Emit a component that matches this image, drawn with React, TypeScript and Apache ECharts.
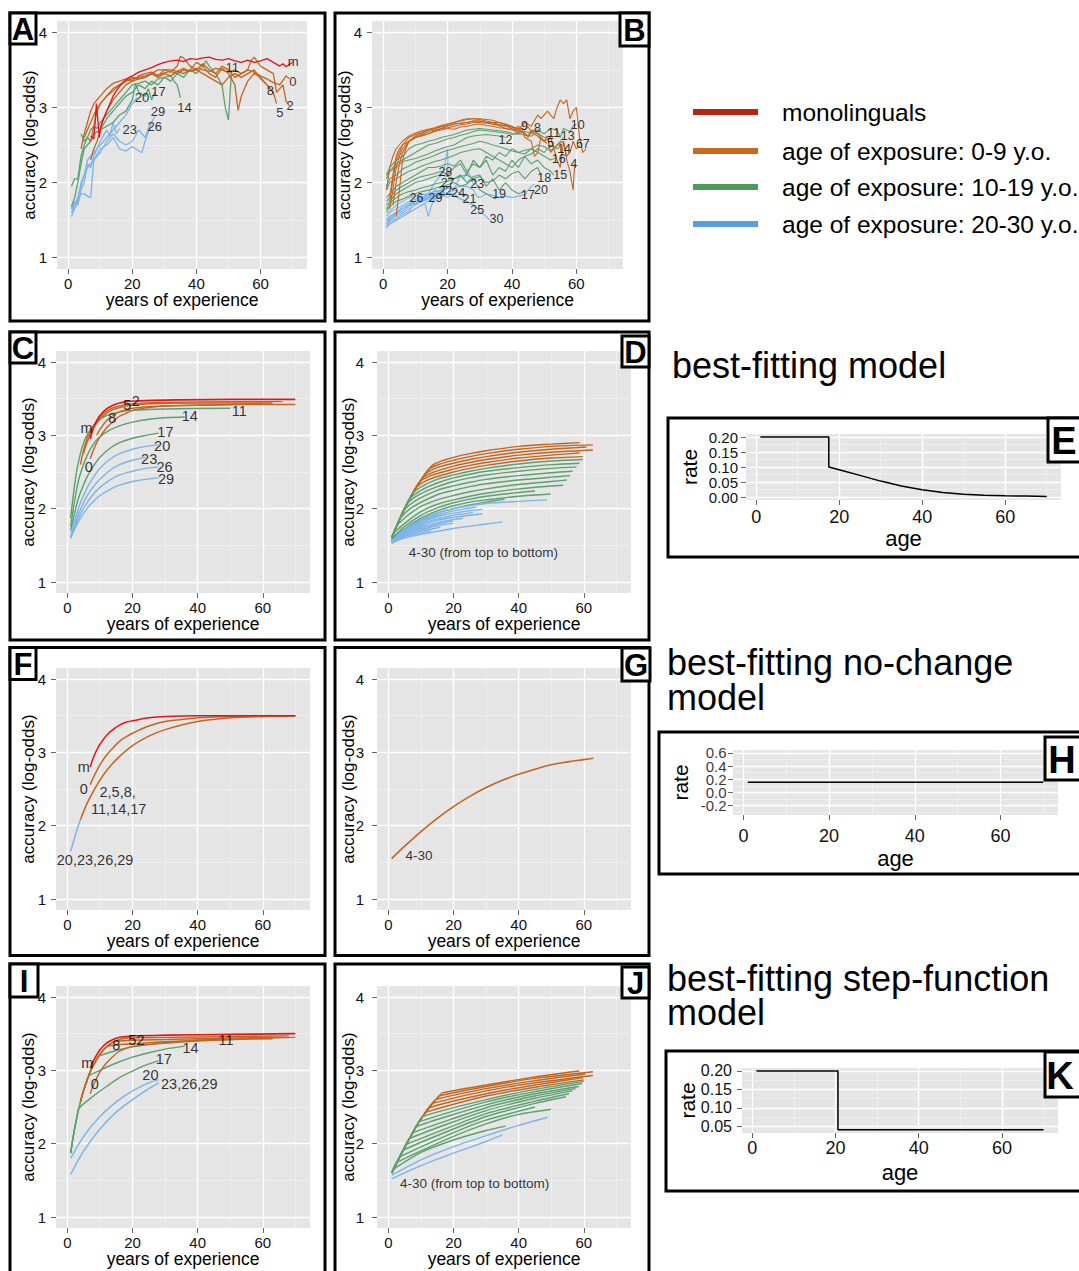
import React, { useEffect, useRef } from "react";
import * as echarts from "echarts";

const FONT = '"Liberation Sans", Arial, Helvetica, sans-serif';
const RED = "#E5141B";
const ORANGE = "#C4651F";
const GREEN = "#5BA06D";
const BLUE = "#7BB4EA";

// ---------- legend ----------
const legendLabels = ["monolinguals", "age of exposure: 0-9 y.o.", "age of exposure: 10-19 y.o.", "age of exposure: 20-30 y.o."];
const legendColors = ["#B5250F", "#C8691F", "#4F9A58", "#5B9DE3"];

// ---------- ticks ----------
const expTicks = [0, 20, 40, 60];
const accTicks = [1, 2, 3, 4];
const ageTicks = [0, 20, 40, 60];
const rateTicksE = [0, 0.05, 0.1, 0.15, 0.2];
const rateTicksH = [-0.2, 0, 0.2, 0.4, 0.6];
const rateTicksK = [0.05, 0.1, 0.15, 0.2];

// ---------- panel A (observed, early learners) ----------
const A_m = [[7,2.62],[8,2.58],[8.8,3.05],[9.7,2.6],[10.2,2.75],[11,2.85],[12,2.95],[13,3.05],[14,3.15],[15,3.22],[16,3.28],[17,3.33],[18,3.37],[19,3.4],[20,3.42],[22,3.47],[24,3.5],[26,3.53],[28,3.57],[30,3.6],[32,3.62],[34,3.63],[36,3.61],[38,3.65],[40,3.64],[42,3.66],[44,3.67],[46,3.64],[48,3.63],[50,3.65],[52,3.62],[54,3.6],[56,3.63],[58,3.6],[60,3.62],[62,3.65],[64,3.6],[66,3.55],[67,3.58],[68,3.54],[70,3.6]];
const A_0 = [[7,2.55],[8,2.75],[9,2.95],[10,3.05],[12,3.15],[14,3.25],[16,3.3],[18,3.35],[20,3.38],[22,3.4],[24,3.42],[26,3.45],[28,3.43],[30,3.46],[32,3.48],[34,3.45],[36,3.5],[38,3.48],[40,3.52],[42,3.5],[44,3.48],[46,3.52],[48,3.5],[50,3.47],[52,3.5],[54,3.45],[56,3.5],[58,3.47],[60,3.42],[62,3.38],[64,3.33],[66,3.3],[68,3.42],[69,3.38]];
const A_2 = [[4,2.45],[5,2.65],[6,2.8],[7,2.95],[8,3.05],[9,3.1],[10,3.15],[12,3.25],[14,3.32],[16,3.35],[18,3.38],[20,3.35],[22,3.42],[24,3.45],[26,3.47],[28,3.42],[30,3.5],[32,3.47],[34,3.55],[35,3.68],[36,3.66],[38,3.55],[40,3.5],[42,3.58],[44,3.5],[46,3.45],[48,3.55],[50,3.5],[52,3.4],[54,3.45],[56,3.5],[57,3.62],[58,3.67],[60,3.55],[62,3.5],[64,3.45],[65,3.2],[66,3.25],[67,3.3],[68,3.08],[69,3.02]];
const A_5 = [[5,2.6],[6,2.7],[7,2.8],[8,2.9],[9,2.98],[10,3.05],[12,3.15],[14,3.22],[16,3.3],[18,3.35],[20,3.4],[22,3.38],[24,3.4],[26,3.45],[28,3.4],[30,3.45],[32,3.42],[34,3.48],[36,3.45],[38,3.5],[40,3.6],[42,3.55],[44,3.45],[46,3.4],[48,3.52],[50,3.45],[52,3.3],[53,2.96],[54,3.15],[56,3.35],[58,3.45],[60,3.4],[62,3.3],[64,3.2],[65,3.05]];
const A_8 = [[7,2.3],[8,2.45],[9,2.55],[10,2.7],[11,2.85],[12,2.95],[14,3.1],[16,3.2],[18,3.3],[20,3.35],[22,3.38],[24,3.4],[26,3.45],[28,3.5],[30,3.5],[32,3.5],[34,3.48],[36,3.52],[38,3.48],[40,3.5],[42,3.45],[44,3.4],[46,3.35],[48,3.3],[50,3.4],[52,3.45],[54,3.4],[56,3.45],[58,3.5],[60,3.38],[62,3.3],[63,3.25]];
const A_11 = [[4,2.65],[5,2.55],[6,2.6],[7,2.7],[8,2.75],[9,2.72],[10,2.8],[12,2.9],[14,3.0],[16,3.1],[18,3.2],[20,3.3],[22,3.32],[24,3.35],[26,3.3],[28,3.38],[30,3.4],[32,3.35],[34,3.45],[36,3.4],[38,3.5],[40,3.45],[42,3.55],[43,3.62],[44,3.55],[46,3.45],[48,3.3],[49,3.0],[50,2.83],[50.5,3.2],[51,3.5]];
const A_14 = [[1,1.95],[2,2.05],[3,2.05],[4,2.35],[5,2.5],[6,2.6],[7,2.55],[8,2.65],[10,2.7],[12,2.85],[14,2.95],[16,3.05],[18,3.15],[20,3.2],[22,3.3],[24,3.25],[26,3.35],[28,3.3],[30,3.4],[32,3.42],[33,3.35],[34,3.3],[35,3.13]];
const A_17 = [[1,1.68],[2,1.8],[3,2.0],[4,2.25],[5,2.45],[6,2.5],[7,2.55],[8,2.65],[10,2.7],[12,2.75],[14,2.8],[16,2.9],[18,2.95],[20,3.1],[21,3.32],[22,3.2],[24,3.15],[25,3.25],[26,3.1],[27,3.2]];
const A_20 = [[1,1.6],[2,1.7],[3,1.78],[4,2.0],[5,2.1],[6,2.3],[7,2.35],[8,2.4],[10,2.5],[12,2.6],[14,2.7],[16,2.8],[18,2.9],[20,3.05],[21.5,3.13]];
const A_23 = [[1,1.65],[2,1.75],[3,1.7],[4,1.9],[5,2.0],[6,2.25],[7,2.2],[8,2.35],[9,2.45],[10,2.55],[12,2.7],[13,2.62],[14,2.8],[15,2.65],[16,2.72]];
const A_26 = [[1,1.55],[2,1.65],[3,1.75],[4,1.85],[5,1.85],[6,1.82],[7,1.8],[8,2.3],[10,2.4],[12,2.55],[14,2.65],[16,2.55],[18,2.5],[20,2.55],[22,2.7],[24,2.6],[25.5,2.78]];
const A_29 = [[1,1.65],[2,1.7],[3,1.8],[4,1.95],[5,2.1],[6,2.2],[8,2.3],[10,2.45],[12,2.5],[14,2.6],[16,2.45],[18,2.42],[20,2.48],[22,2.42],[23,2.4],[24,2.55],[26,2.8],[27,2.88]];
const A_labels = [["m",70.2,3.61],["0",70.1,3.35],["8",63.1,3.23],["5",66,2.93],["2",69.2,3.02],["11",51.2,3.53],["14",36.3,3.0],["17",28.2,3.21],["20",23,3.13],["29",28,2.95],["26",27,2.74],["23",19.2,2.71]];

// ---------- panel B (observed, late learners) ----------
const B_orange = [
  [[2,1.65],[3,1.9],[4,2.2],[5,2.35],[6,2.45],[8,2.55],[10,2.6],[12,2.62],[14,2.65],[16,2.68],[18,2.7],[20,2.72],[22,2.71],[24,2.74],[26,2.75],[28,2.77],[30,2.78],[32,2.76],[34,2.75],[36,2.73],[38,2.72],[40,2.71],[42,2.7],[44,2.65],[45,2.62],[46,2.7],[48,2.65],[50,2.55],[51,2.62],[52,2.4],[53,2.45],[54,2.3],[55,2.2],[56,2.55],[57,2.3],[58,2.15],[59,1.9],[59.5,2.25]],
  [[2,1.75],[3,2.05],[4,2.3],[5,2.4],[6,2.5],[8,2.55],[10,2.6],[12,2.63],[14,2.65],[16,2.69],[18,2.72],[20,2.73],[22,2.75],[24,2.77],[26,2.78],[28,2.8],[30,2.8],[32,2.79],[34,2.78],[36,2.76],[38,2.72],[40,2.7],[42,2.68],[44,2.66],[45,2.6],[46,2.67],[48,2.62],[49,2.58],[50,2.55],[51,2.52]],
  [[4,1.55],[5,1.9],[6,2.3],[7,2.45],[8,2.55],[10,2.6],[12,2.64],[14,2.68],[16,2.7],[18,2.72],[20,2.75],[22,2.78],[24,2.79],[26,2.8],[28,2.82],[30,2.82],[32,2.8],[34,2.8],[36,2.77],[38,2.75],[40,2.72],[42,2.65],[43,2.72],[44,2.6],[46,2.55],[47,2.35],[48,2.4],[49,2.6],[50,2.55],[52,2.6],[53,2.45],[54,2.5],[56,2.55],[57,2.35],[58,2.4],[59,2.55],[60,2.45],[61,2.5]],
  [[3,1.7],[4,2.0],[5,2.25],[6,2.4],[8,2.55],[10,2.62],[12,2.66],[14,2.7],[16,2.72],[18,2.75],[20,2.78],[22,2.8],[24,2.83],[26,2.85],[28,2.85],[30,2.84],[32,2.82],[34,2.8],[36,2.8],[38,2.78],[40,2.75],[42,2.7],[44,2.8],[46,2.75],[48,2.9],[49,2.85],[50,2.9],[51,2.95],[52,2.9],[53,2.85],[54,3.0],[55,3.1],[56,3.05],[57,3.1],[58,2.85],[59,2.95],[60,3.0],[60.5,2.8],[61,2.6],[62,2.4],[63,2.45]],
  [[2,1.8],[3,2.1],[4,2.35],[5,2.45],[6,2.5],[8,2.6],[10,2.64],[12,2.67],[14,2.7],[16,2.72],[18,2.74],[20,2.76],[22,2.78],[24,2.79],[26,2.8],[28,2.82],[30,2.82],[32,2.8],[34,2.78],[36,2.77],[38,2.76],[40,2.74],[42,2.72],[44,2.7],[45,2.74],[46,2.68],[47,2.7]],
  [[1,1.9],[2,2.2],[3,2.35],[4,2.45],[6,2.55],[8,2.62],[10,2.66],[12,2.69],[14,2.71],[16,2.73],[18,2.76],[20,2.78],[22,2.8],[24,2.82],[26,2.84],[28,2.85],[30,2.85],[32,2.84],[34,2.83],[36,2.8],[38,2.77],[40,2.74],[41,2.72],[42,2.75],[43,2.7]],
];
const B_green = [
  [[1,2.1],[2,2.2],[4,2.3],[6,2.35],[8,2.45],[10,2.5],[12,2.52],[14,2.55],[16,2.57],[18,2.6],[20,2.62],[22,2.64],[24,2.67],[26,2.7],[28,2.71],[30,2.72],[32,2.71],[34,2.7],[36,2.69],[38,2.68],[40,2.66],[42,2.65],[44,2.68],[46,2.66],[48,2.7],[50,2.65],[52,2.72],[54,2.7],[55,2.6],[56,2.72],[58,2.68],[59,2.75],[60,2.78]],
  [[1,2.05],[2,2.15],[4,2.25],[6,2.3],[8,2.35],[10,2.4],[12,2.45],[14,2.5],[16,2.52],[18,2.55],[20,2.58],[22,2.6],[24,2.63],[26,2.65],[28,2.68],[30,2.7],[32,2.69],[34,2.68],[36,2.67],[38,2.66],[40,2.64],[42,2.65],[44,2.63],[46,2.62],[48,2.66],[50,2.6],[52,2.62]],
  [[1,2.1],[2,2.15],[4,2.2],[6,2.28],[8,2.3],[10,2.32],[12,2.35],[14,2.38],[16,2.42],[18,2.45],[20,2.48],[22,2.5],[24,2.55],[26,2.6],[28,2.62],[30,2.63],[32,2.64],[34,2.63],[36,2.62],[38,2.6]],
  [[1,1.95],[2,2.05],[4,2.1],[6,2.18],[8,2.22],[10,2.27],[12,2.3],[14,2.33],[16,2.36],[18,2.4],[20,2.43],[22,2.45],[24,2.48],[26,2.5],[28,2.52],[30,2.55],[32,2.53],[34,2.5],[36,2.48],[38,2.45],[40,2.42],[42,2.4],[44,2.43],[46,2.45],[48,2.5],[50,2.48],[52,2.42],[54,2.5],[56,2.6]],
  [[1,1.9],[2,2.0],[4,2.05],[6,2.1],[8,2.15],[10,2.18],[12,2.22],[14,2.25],[16,2.28],[18,2.3],[20,2.33],[22,2.36],[24,2.4],[26,2.42],[28,2.44],[30,2.45],[32,2.4],[34,2.35],[36,2.3],[38,2.25],[40,2.2],[42,2.3],[44,2.35],[46,2.38],[48,2.45],[50,2.4],[52,2.5],[54,2.45],[55,2.48]],
  [[1,1.8],[2,1.85],[4,1.95],[6,2.0],[8,2.05],[10,2.1],[12,2.15],[14,2.2],[16,2.2],[18,2.22],[20,2.25],[22,2.22],[24,2.3],[26,2.15],[28,2.25],[30,2.2],[32,2.3],[34,2.1],[36,2.2],[38,2.15],[40,2.3],[42,2.2],[44,2.35],[46,2.25],[48,2.3],[50,2.2],[52,2.15],[53,2.1]],
  [[1,1.75],[2,1.8],[4,1.9],[6,1.95],[8,2.0],[10,2.05],[12,2.08],[14,2.1],[16,2.12],[18,2.15],[20,2.1],[22,2.2],[24,2.25],[26,2.1],[28,2.3],[30,2.2],[32,2.35],[34,2.3],[36,2.4],[38,2.35],[40,2.45],[42,2.4],[44,2.38],[46,2.45],[48,2.4],[50,2.35],[52,2.3],[53,2.32]],
  [[1,1.7],[2,1.75],[4,1.85],[6,1.9],[8,1.95],[10,2.0],[12,2.02],[14,2.05],[16,2.08],[18,2.1],[20,2.08],[22,2.05],[24,2.1],[26,2.0],[28,2.08],[30,2.1],[32,1.95],[34,2.05],[36,1.9],[38,2.0],[40,1.9],[42,1.85],[44,1.88]],
  [[1,1.65],[2,1.72],[4,1.8],[6,1.85],[8,1.88],[10,1.9],[12,1.93],[14,1.95],[16,1.98],[18,2.0],[20,2.02],[22,2.05],[24,2.08],[26,2.1],[28,2.05],[30,2.08],[32,2.0],[34,2.02],[36,2.1],[38,2.05],[40,2.12],[42,2.15],[44,2.05],[46,2.15],[48,2.2],[49,2.1]],
  [[1,1.62],[2,1.68],[4,1.75],[6,1.78],[8,1.82],[10,1.85],[12,1.88],[14,1.9],[16,1.92],[18,1.95],[20,1.97],[22,2.0],[24,1.95],[26,1.98],[28,2.05],[30,1.9],[32,1.85],[34,1.8],[35,1.78]],
];
const B_blue = [
  [[1,1.6],[2,1.62],[4,1.7],[6,1.75],[8,1.8],[10,1.82],[12,1.84],[14,1.85],[16,1.88],[18,1.9],[20,1.92],[22,1.93],[24,1.95],[26,1.95],[28,1.9],[29,1.82],[30,1.8],[32,1.85],[34,1.83],[36,1.8],[38,1.82],[40,1.8],[42,1.82],[44,1.84],[46,1.95],[47,1.98]],
  [[1,1.55],[2,1.6],[4,1.65],[6,1.7],[8,1.75],[10,1.78],[12,1.8],[14,1.85],[16,1.8],[18,1.88],[20,1.85],[22,1.9],[24,1.85],[26,1.82]],
  [[1,1.5],[2,1.55],[4,1.6],[6,1.68],[8,1.72],[10,1.75],[12,1.78],[14,1.8],[16,1.85],[18,1.82],[19,1.88]],
  [[1,1.48],[2,1.52],[4,1.6],[6,1.65],[8,1.7],[10,1.75],[12,1.8],[14,1.82],[16,1.9],[18,1.85],[20,1.95],[22,1.9],[24,2.1],[25,2.05],[26,2.15],[27,2.1],[28,1.98]],
  [[1,1.45],[2,1.5],[4,1.58],[6,1.62],[8,1.68],[10,1.72],[12,1.75],[14,1.78],[16,1.8],[18,1.82],[20,1.85],[22,1.85]],
  [[1,1.5],[2,1.55],[4,1.6],[6,1.65],[8,1.7],[10,1.72],[12,1.75],[14,1.8],[16,1.82],[18,1.85],[20,1.8],[22,1.85],[24,1.78],[26,1.75],[28,1.7]],
  [[1,1.42],[2,1.48],[4,1.52],[6,1.58],[8,1.62],[9,1.68]],
  [[1,1.45],[2,1.5],[4,1.55],[6,1.6],[8,1.65],[10,1.7],[12,1.75],[14,1.8],[16,1.85],[18,1.9],[19,1.95]],
  [[1,1.5],[2,1.55],[4,1.6],[6,1.65],[8,1.7],[10,1.72],[12,1.78],[14,1.85],[16,2.0],[18,2.1],[19,2.2],[20,2.45],[20.2,2.0]],
  [[1,1.4],[2,1.45],[4,1.5],[6,1.55],[8,1.6],[10,1.65],[12,1.7],[13,1.72],[14,1.55],[15,1.7],[16,1.78]],
  [[1,1.4],[2,1.45],[4,1.5],[6,1.55],[8,1.6],[10,1.65],[12,1.7],[14,1.75],[16,1.78],[18,1.8],[20,1.85],[22,1.82],[24,1.78],[26,1.75],[28,1.7],[30,1.62],[32,1.55],[33,1.5]],
];
const B_labels = [["9",43.9,2.75],["8",47.9,2.73],["12",38,2.57],["11",53,2.66],["13",57.3,2.62],["10",60.4,2.77],["5",52,2.53],["14",56.2,2.45],["6",61,2.51],["7",63.1,2.51],["16",54.5,2.31],["4",59.3,2.25],["15",55,2.1],["18",50,2.06],["20",49,1.9],["17",45,1.84],["19",36,1.85],["23",29.2,1.98],["21",26.8,1.78],["25",29.2,1.64],["30",35.2,1.52],["28",19.3,2.14],["27",20,2.0],["22",19.3,1.89],["24",23.3,1.86],["26",10.3,1.8],["29",16.2,1.8]];

// ---------- panel C (best-fitting model, early learners) ----------
const C_m = [[7,2.95],[8,3.1],[9,3.2],[10,3.27],[12,3.36],[14,3.41],[16,3.44],[18,3.46],[22,3.47],[30,3.48],[50,3.49],[70,3.49]];
const C_orange = [
  [[7,2.68],[8,2.8],[9,2.9],[10,2.98],[12,3.1],[14,3.19],[16,3.26],[18,3.3],[20,3.34],[25,3.38],[30,3.4],[40,3.41],[55,3.42],[70,3.42]],
  [[4,2.6],[5,2.8],[6,2.95],[7,3.05],[8,3.13],[10,3.25],[12,3.33],[15,3.39],[20,3.43],[30,3.45],[50,3.46],[66,3.46]],
  [[5,2.75],[6,2.9],[8,3.1],[10,3.22],[12,3.3],[14,3.35],[18,3.4],[25,3.43],[40,3.44],[63,3.44]],
  [[9,3.0],[10,3.08],[12,3.2],[14,3.27],[16,3.32],[20,3.37],[30,3.4],[50,3.42],[60,3.43]],
];
const C_green = [
  [[1,1.87],[2,2.25],[3,2.55],[4,2.75],[5,2.9],[6,3.0],[8,3.13],[10,3.22],[12,3.27],[15,3.31],[20,3.34],[30,3.36],[50,3.37]],
  [[1,1.76],[2,2.05],[3,2.3],[4,2.48],[6,2.72],[8,2.88],[10,2.98],[13,3.07],[16,3.13],[20,3.18],[25,3.22],[30,3.24],[36,3.25]],
  [[1,1.7],[2,1.9],[3,2.08],[4,2.22],[6,2.43],[8,2.58],[10,2.7],[13,2.82],[16,2.9],[20,2.96],[24,3.0],[28,3.03]],
];
const C_blue = [
  [[1,1.62],[2,1.8],[3,1.95],[4,2.08],[6,2.28],[8,2.43],[10,2.55],[13,2.67],[16,2.75],[20,2.81],[24,2.85],[28,2.87]],
  [[1,1.6],[2,1.75],[3,1.88],[4,1.99],[6,2.17],[8,2.3],[10,2.4],[13,2.52],[16,2.6],[20,2.66],[24,2.7]],
  [[1,1.6],[2,1.72],[3,1.83],[4,1.93],[6,2.08],[8,2.2],[10,2.29],[13,2.39],[16,2.46],[20,2.51],[24,2.55],[28,2.57]],
  [[1,1.6],[2,1.7],[3,1.79],[4,1.87],[6,2.0],[8,2.1],[10,2.18],[13,2.26],[16,2.32],[20,2.37],[24,2.4],[28,2.42]],
];
const C_labels = [["m",5.9,3.1],["0",6.6,2.57],["8",13.8,3.24],["5",18.4,3.41],["2",21,3.47],["11",52.8,3.33],["14",37.6,3.26],["17",30.1,3.04],["20",29.1,2.86],["23",25.1,2.68],["26",29.8,2.57],["29",30.3,2.41]];

// ---------- panel D (best-fitting model, late learners, ages 4-30) ----------
const D_orange = [
  [[1,1.6],[4,1.91],[7,2.17],[10,2.39],[13.5,2.59],[17,2.66],[20,2.7],[25,2.75],[30,2.79],[40,2.85],[50,2.88],[58.7,2.9]],
  [[1,1.6],[4,1.91],[7,2.17],[10,2.39],[12.5,2.54],[16,2.61],[20,2.66],[25,2.71],[30,2.75],[40,2.81],[50,2.85],[62.8,2.87]],
  [[1,1.6],[4,1.91],[7,2.17],[10,2.39],[11.5,2.48],[15,2.56],[20,2.62],[25,2.67],[30,2.71],[40,2.77],[50,2.81],[60.8,2.84]],
  [[1,1.6],[4,1.91],[7,2.17],[10.5,2.42],[14,2.5],[20,2.58],[25,2.63],[30,2.67],[40,2.73],[50,2.77],[62.8,2.8]],
  [[1,1.6],[4,1.91],[7,2.17],[9.5,2.36],[13,2.45],[20,2.54],[25,2.59],[30,2.63],[40,2.69],[50,2.73],[58.7,2.76]],
  [[1,1.6],[4,1.91],[7,2.17],[8.5,2.29],[12,2.39],[20,2.5],[25,2.55],[30,2.59],[40,2.65],[50,2.69],[59.7,2.71]],
];
const D_green = [
  [[1,1.6],[4,1.91],[7.5,2.21],[11,2.32],[15,2.4],[20,2.46],[25,2.51],[30,2.55],[40,2.61],[50,2.65],[59.7,2.67]],
  [[1,1.6],[4,1.91],[6.5,2.13],[10,2.25],[15,2.35],[20,2.42],[25,2.47],[30,2.51],[40,2.56],[50,2.6],[58.7,2.62]],
  [[1,1.6],[3,1.81],[5.5,2.05],[9,2.18],[15,2.3],[20,2.37],[25,2.42],[30,2.46],[40,2.51],[50,2.55],[57.8,2.57]],
  [[1,1.6],[3,1.81],[4.5,1.96],[8,2.1],[15,2.25],[20,2.31],[25,2.36],[30,2.4],[40,2.45],[50,2.49],[56.6,2.51]],
  [[1,1.6],[2,1.71],[3.5,1.86],[7,2.01],[15,2.19],[20,2.25],[25,2.3],[30,2.34],[40,2.39],[50,2.43],[55.8,2.45]],
  [[1,1.6],[2.5,1.76],[6,1.91],[10,2.03],[15,2.12],[20,2.18],[25,2.23],[30,2.27],[40,2.33],[50,2.37],[54.8,2.39]],
  [[1,1.6],[1.5,1.66],[5,1.8],[10,1.96],[15,2.06],[20,2.12],[25,2.17],[30,2.21],[40,2.27],[50,2.31],[53.7,2.32]],
  [[1,1.59],[5,1.76],[10,1.91],[15,2.01],[20,2.08],[25,2.13],[30,2.17],[40,2.22],[45,2.24]],
  [[1,1.58],[5,1.73],[10,1.87],[15,1.97],[20,2.04],[25,2.09],[30,2.12],[40,2.17],[49.8,2.2]],
  [[1,1.58],[5,1.71],[10,1.84],[15,1.94],[20,2.0],[25,2.05],[30,2.09],[35.7,2.13]],
];
const D_blue = [
  [[1,1.56],[5,1.72],[10,1.85],[15,1.94],[20,2.0],[30,2.07],[40,2.1],[48.7,2.12]],
  [[1,1.56],[5,1.71],[10,1.83],[15,1.91],[20,1.97],[27,2.02]],
  [[1,1.55],[5,1.7],[10,1.81],[15,1.89],[20,1.94],[28.8,1.99]],
  [[1,1.55],[5,1.69],[10,1.79],[15,1.86],[20,1.91],[26,1.95]],
  [[1,1.55],[5,1.68],[10,1.77],[15,1.84],[20,1.88],[28.8,1.93]],
  [[1,1.54],[5,1.67],[10,1.75],[15,1.81],[20,1.85],[22.9,1.87]],
  [[1,1.54],[5,1.66],[10,1.73],[15,1.79],[20,1.83]],
  [[1,1.54],[5,1.65],[10,1.71],[15,1.77],[20,1.8]],
  [[1,1.53],[5,1.63],[10,1.69],[16,1.75]],
  [[1,1.53],[5,1.62],[10,1.67],[13,1.7]],
  [[1,1.53],[5,1.6],[10,1.65],[15,1.69],[20,1.73],[30,1.79],[35,1.82]],
];
const D_note = [["4-30 (from top to bottom)", 6.1, 1.4]];

// ---------- panel E (rate by age, best model) ----------
const E_rate = [[1,0.2],[17.5,0.2],[17.5,0.1],[20,0.091],[25,0.072],[30,0.053],[35,0.037],[40,0.024],[45,0.015],[50,0.009],[55,0.006],[60,0.004],[65,0.003],[70,0.002]];

// ---------- panel F / G (no-change model) ----------
const F_m = [[7,2.8],[8,2.93],[9,3.03],[10,3.11],[12,3.23],[14,3.31],[16,3.37],[18,3.41],[20,3.43],[25,3.47],[30,3.49],[40,3.5],[70,3.5]];
const F_0 = [[7,2.56],[8,2.66],[10,2.83],[12,2.96],[14,3.06],[16,3.15],[18,3.21],[20,3.26],[25,3.36],[30,3.42],[40,3.47],[50,3.49],[70,3.5]];
const F_2to17 = [[4,2.08],[6,2.3],[8,2.47],[10,2.62],[12,2.75],[15,2.9],[20,3.09],[25,3.22],[30,3.31],[40,3.42],[50,3.47],[60,3.49],[70,3.5]];
const F_20to29 = [[1,1.65],[2,1.8],[3,1.95],[4,2.08]];
const F_labels = [["m",5,2.8],["0",5,2.5],["20,23,26,29",8.5,1.53]];
const F_labelsLeft = [["2,5,8,",9.7,2.46],["11,14,17",7.1,2.23]];
const G_all = [[1,1.55],[5,1.72],[10,1.92],[15,2.1],[20,2.26],[25,2.4],[30,2.52],[35,2.62],[40,2.7],[45,2.77],[50,2.83],[55,2.87],[60,2.9],[63,2.92]];
const G_note = [["4-30", 5.1, 1.59]];
const H_rate = [[1,0.155],[70,0.155]];

// ---------- panel I / J / K (step-function model) ----------
const I_m = [[7,3.03],[8,3.13],[9,3.21],[10,3.28],[12,3.37],[14,3.42],[16,3.45],[18,3.46],[20,3.47],[30,3.48],[50,3.49],[70,3.5]];
const I_orange = [
  [[7,2.68],[8,2.8],[10,2.98],[12,3.1],[14,3.19],[16,3.26],[18,3.3],[20.5,3.33],[30,3.37],[40,3.4],[50,3.42],[60,3.44],[70,3.45]],
  [[4,2.57],[5,2.73],[6,2.86],[7,2.98],[8,3.07],[10,3.22],[12,3.32],[14,3.38],[16,3.42],[18.5,3.44],[30,3.45],[50,3.46],[68,3.47]],
  [[4,2.57],[5,2.73],[6,2.86],[7,2.98],[8,3.07],[10,3.22],[12,3.32],[14,3.38],[15.5,3.4],[30,3.42],[50,3.44],[66,3.45]],
  [[4,2.57],[5,2.73],[6,2.86],[7,2.98],[8,3.07],[10,3.22],[12.5,3.33],[20,3.36],[30,3.39],[50,3.42],[63,3.43]],
];
const I_green = [
  [[1,1.87],[2,2.15],[3,2.38],[4,2.57],[5,2.73],[6,2.86],[7,2.98],[8,3.07],[9,3.15],[9.5,3.19],[15,3.27],[20,3.32],[30,3.38],[40,3.41],[48,3.43]],
  [[1,1.87],[2,2.15],[3,2.38],[4,2.57],[5,2.73],[6,2.86],[6.5,2.92],[10,3.0],[15,3.1],[20,3.18],[25,3.24],[30,3.29],[36,3.33]],
  [[1,1.87],[2,2.15],[3,2.38],[3.5,2.48],[8,2.65],[12,2.78],[16,2.9],[20,2.99],[24,3.07],[28,3.13]],
];
const I_blue = [
  [[1,1.8],[5,2.1],[10,2.37],[15,2.57],[20,2.72],[25,2.83],[28,2.87]],
  [[1,1.58],[5,1.9],[10,2.2],[15,2.43],[20,2.6],[25,2.75],[28,2.83]],
];
const I_labels = [["m",6.1,3.1],["0",8.4,2.81],["8",15,3.34],["52",21.2,3.42],["14",37.8,3.31],["11",48.7,3.41],["17",29.6,3.15],["20",25.5,2.93]];
const I_labelsLeft = [["23,26,29",28.6,2.81]];

const J_orange = [
  [[1,1.6],[3,1.78],[5,1.95],[7,2.11],[9,2.27],[11,2.4],[13,2.52],[15,2.62],[16.5,2.69],[30,2.8],[45,2.91],[58.6,2.99]],
  [[1,1.6],[3,1.78],[5,1.95],[7,2.11],[9,2.27],[11,2.4],[13,2.52],[15,2.62],[15.5,2.65],[30,2.78],[45,2.89],[62.8,2.98]],
  [[1,1.6],[3,1.78],[5,1.95],[7,2.11],[9,2.27],[11,2.4],[13,2.52],[14.5,2.6],[30,2.75],[45,2.86],[60.5,2.95]],
  [[1,1.6],[3,1.78],[5,1.95],[7,2.11],[9,2.27],[11,2.4],[13,2.52],[13.5,2.55],[30,2.72],[45,2.83],[62.8,2.93]],
  [[1,1.6],[3,1.78],[5,1.95],[7,2.11],[9,2.27],[11,2.4],[12.5,2.49],[30,2.68],[45,2.8],[59.8,2.9]],
  [[1,1.6],[3,1.78],[5,1.95],[7,2.11],[9,2.27],[11,2.4],[11.5,2.43],[30,2.65],[45,2.77],[60,2.87]],
];
const J_green = [
  [[1,1.6],[3,1.78],[5,1.95],[7,2.11],[9,2.27],[10.5,2.37],[30,2.6],[45,2.74],[60,2.85]],
  [[1,1.6],[3,1.78],[5,1.95],[7,2.11],[9,2.27],[9.5,2.3],[30,2.57],[45,2.71],[59.5,2.82]],
  [[1,1.6],[3,1.78],[5,1.95],[7,2.11],[8.5,2.23],[30,2.53],[45,2.68],[58.5,2.78]],
  [[1,1.6],[3,1.78],[5,1.95],[7,2.11],[7.5,2.15],[30,2.49],[45,2.65],[57.5,2.75]],
  [[1,1.6],[3,1.78],[5,1.95],[6.5,2.07],[30,2.45],[45,2.62],[56.5,2.72]],
  [[1,1.6],[3,1.78],[5,1.95],[5.5,1.99],[30,2.41],[45,2.58],[55.5,2.68]],
  [[1,1.6],[3,1.78],[4.5,1.91],[30,2.37],[45,2.55],[54.5,2.64]],
  [[1,1.6],[3,1.78],[3.5,1.82],[20,2.15],[30,2.32],[45,2.5]],
  [[1,1.6],[2.5,1.74],[20,2.1],[30,2.27],[40,2.4],[50,2.47]],
  [[1,1.6],[1.5,1.65],[10,1.88],[20,2.05],[30,2.18],[36,2.24]],
];
const J_blue = [
  [[1,1.57],[10,1.78],[20,1.96],[30,2.11],[40,2.25],[48.9,2.36]],
  [[1,1.52],[10,1.7],[20,1.87],[30,2.03],[35,2.12]],
];
const J_note = [["4-30 (from top to bottom)", 3.4, 1.46]];
const K_rate = [[1,0.2],[20.6,0.2],[20.6,0.041],[70,0.041]];

// ---------- layout (pixels) ----------
const GRIDS = [
  { left: 57, top: 21, width: 250, height: 248 },   // A
  { left: 372, top: 21, width: 251, height: 248 },  // B
  { left: 56, top: 351, width: 254, height: 242 },  // C
  { left: 377, top: 351, width: 254, height: 242 }, // D
  { left: 746, top: 434, width: 315, height: 66 },  // E
  { left: 56, top: 668, width: 254, height: 242 },  // F
  { left: 377, top: 668, width: 254, height: 242 }, // G
  { left: 733, top: 750, width: 325, height: 65 },  // H
  { left: 56, top: 986, width: 254, height: 242 },  // I
  { left: 377, top: 986, width: 254, height: 242 }, // J
  { left: 742, top: 1068, width: 316, height: 65 }, // K
];
const RATE_X_MIN = -2.45;

function makeAxis(i: number, o: any) {
  return {
    type: "value",
    gridIndex: i,
    min: o.min,
    max: o.max,
    minInterval: o.step,
    maxInterval: o.step,
    axisLine: { show: false, onZero: false },
    axisTick: { show: true, customValues: o.ticks, length: 5, lineStyle: { color: "#666", width: 1 } },
    axisLabel: {
      show: o.showLabels !== false,
      customValues: o.ticks,
      interval: 0,
      showMinLabel: true,
      showMaxLabel: true,
      hideOverlap: false,
      margin: o.margin,
      color: "#111",
      fontFamily: FONT,
      fontSize: o.tickSize,
      lineHeight: o.lineHeight ?? o.tickSize,
      formatter: (v: number) => (o.ticks.some((t: number) => Math.abs(t - v) < 1e-9) ? o.fmt(v) : ""),
    },
    splitLine: { show: true, lineStyle: { color: "#ffffff", width: 1.3 } },
    minorTick: { show: false, splitNumber: 2 },
    minorSplitLine: { show: true, lineStyle: { color: "#F3F3F3", width: 0.7 } },
    name: o.name,
    nameLocation: "middle",
    nameGap: o.gap,
    nameMoveOverlap: false,
    nameTextStyle: { color: "#000", fontFamily: FONT, fontSize: o.nameSize },
  };
}

const intFmt = (v: number) => String(Math.round(v));

function accAxes(i: number, yMargin: number, yGap: number) {
  return {
    x: makeAxis(i, { min: -3.5, max: 74.5, step: 20, ticks: expTicks, margin: 7, tickSize: 15, fmt: intFmt, name: "years of experience", gap: 22, nameSize: 17.5 }),
    y: makeAxis(i, { min: 0.85, max: 4.15, step: 1, ticks: accTicks, margin: yMargin, tickSize: 15, fmt: intFmt, name: "accuracy (log-odds)", gap: yGap, nameSize: 17 }),
  };
}

function rateAxes(i: number, yMin: number, yMax: number, yStep: number, yTicks: number[], digits: number, xMargin: number, xGap: number, yMargin: number, yGap: number, ySize: number, yLine: number, showY = true) {
  return {
    x: makeAxis(i, { min: RATE_X_MIN, max: 73.45, step: 20, ticks: ageTicks, margin: xMargin, tickSize: 18, fmt: intFmt, name: "age", gap: xGap, nameSize: 22 }),
    y: makeAxis(i, { min: yMin, max: yMax, step: yStep, ticks: yTicks, margin: yMargin, tickSize: ySize, lineHeight: yLine, showLabels: showY, fmt: (v: number) => v.toFixed(digits), name: "rate", gap: yGap, nameSize: 21 }),
  };
}

const ln = (i: number, data: any, color: string, width = 1.3, smooth: any = false) => ({
  type: "line", xAxisIndex: i, yAxisIndex: i, data, symbol: "none", showSymbol: false, smooth,
  silent: true, lineStyle: { color, width }, itemStyle: { color }, emphasis: { disabled: true }, z: 2,
});

const lbl = (i: number, items: any[], fontSize: number, position = "inside", distance = 0) => ({
  type: "scatter", xAxisIndex: i, yAxisIndex: i, symbolSize: 1, silent: true, z: 4, clip: false,
  itemStyle: { color: "rgba(0,0,0,0)" },
  data: items.map(([n, x, y]) => ({ name: n, value: [x, y] })),
  label: { show: true, position, distance, formatter: "{b}", color: "#000", fontSize, fontFamily: FONT },
  labelLayout: { hideOverlap: false },
  emphasis: { disabled: true },
});

function buildOption() {
  const grid = GRIDS.map((g) => ({ ...g, show: true, backgroundColor: "#E5E5E5", borderWidth: 0, containLabel: false, outerBoundsMode: "none" }));
  const axes = [
    accAxes(0, 10, 19),
    accAxes(1, 10, 19),
    accAxes(2, 10, 19),
    accAxes(3, 13, 20),
    rateAxes(4, -0.01, 0.21, 0.05, rateTicksE, 2, 8, 27, 8, 46, 15, 13),
    accAxes(5, 10, 19),
    accAxes(6, 13, 20),
    rateAxes(7, -0.345, 0.645, 0.2, rateTicksH, 1, 12, 32, 6, 42, 15, 12, false),
    accAxes(8, 10, 19),
    accAxes(9, 13, 20),
    rateAxes(10, 0.032, 0.208, 0.05, rateTicksK, 2, 6, 28, 10, 44, 16, 16),
  ];
  const xAxis = axes.map((a) => a.x);
  const yAxis = axes.map((a) => a.y);

  const s: any[] = [];
  // A
  [A_20, A_23, A_26, A_29].forEach((d) => s.push(ln(0, d, BLUE)));
  [A_11, A_14, A_17].forEach((d) => s.push(ln(0, d, GREEN)));
  [A_0, A_2, A_5, A_8].forEach((d) => s.push(ln(0, d, ORANGE)));
  s.push(ln(0, A_m, RED));
  s.push(lbl(0, A_labels, 13));
  // B
  B_blue.forEach((d) => s.push(ln(1, d, BLUE, 1.1)));
  B_green.forEach((d) => s.push(ln(1, d, GREEN, 1.1)));
  B_orange.forEach((d) => s.push(ln(1, d, ORANGE, 1.1)));
  s.push(lbl(1, B_labels, 12.5));
  // C
  C_blue.forEach((d) => s.push(ln(2, d, BLUE, 1.4, 0.4)));
  C_green.forEach((d) => s.push(ln(2, d, GREEN, 1.4, 0.4)));
  C_orange.forEach((d) => s.push(ln(2, d, ORANGE, 1.4, 0.4)));
  s.push(ln(2, C_m, RED, 1.6, 0.4));
  s.push(lbl(2, C_labels, 14.5));
  // D
  D_orange.forEach((d) => s.push(ln(3, d, ORANGE, 1.4, 0.3)));
  D_green.forEach((d) => s.push(ln(3, d, GREEN, 1.4, 0.3)));
  D_blue.forEach((d) => s.push(ln(3, d, BLUE, 1.4, 0.3)));
  s.push(lbl(3, D_note, 13.5, "right"));
  // E
  s.push(ln(4, E_rate, "#000", 1.5));
  // F
  s.push(ln(5, F_20to29, BLUE, 1.5, 0.3));
  s.push(ln(5, F_2to17, ORANGE, 1.5, 0.4));
  s.push(ln(5, F_0, ORANGE, 1.5, 0.4));
  s.push(ln(5, F_m, RED, 1.5, 0.4));
  s.push(lbl(5, F_labels, 14.5));
  s.push(lbl(5, F_labelsLeft, 14.5, "right"));
  // G
  s.push(ln(6, G_all, ORANGE, 1.6, 0.4));
  s.push(lbl(6, G_note, 13.5, "right"));
  // H (rate tick labels placed at the axis edge through the axis scale)
  s.push(ln(7, H_rate, "#000", 1.5));
  s.push(lbl(7, rateTicksH.map((v) => [v.toFixed(1), RATE_X_MIN, v]), 15, "left", 6));
  // I
  I_blue.forEach((d) => s.push(ln(8, d, BLUE, 1.4, 0.3)));
  I_green.forEach((d) => s.push(ln(8, d, GREEN, 1.4, 0.3)));
  I_orange.forEach((d) => s.push(ln(8, d, ORANGE, 1.4, 0.3)));
  s.push(ln(8, I_m, RED, 1.6, 0.4));
  s.push(lbl(8, I_labels, 14.5));
  s.push(lbl(8, I_labelsLeft, 14.5, "right"));
  // J
  J_orange.forEach((d) => s.push(ln(9, d, ORANGE, 1.4, 0.2)));
  J_green.forEach((d) => s.push(ln(9, d, GREEN, 1.4, 0.2)));
  J_blue.forEach((d) => s.push(ln(9, d, BLUE, 1.4, 0.2)));
  s.push(lbl(9, J_note, 13.5, "right"));
  // K
  s.push(ln(10, K_rate, "#000", 1.5));

  // ---------- graphics: frames, panel letters, titles, legend ----------
  const g: any[] = [];
  const frame = (x: number, y: number, w: number, h: number) =>
    g.push({ type: "rect", shape: { x, y, width: w, height: h }, style: { fill: "none", stroke: "#000", lineWidth: 3 }, z: 100, silent: true });
  frame(10, 13, 315, 308);
  frame(335, 13, 314, 308);
  frame(10, 332, 315, 308);
  frame(335, 332, 314, 308);
  frame(10, 647.5, 315, 308);
  frame(335, 647.5, 314, 308);
  frame(10, 964, 315, 330);
  frame(335, 964, 314, 330);
  frame(668, 418, 430, 139);
  frame(659, 732, 440, 142);
  frame(666, 1051, 430, 140);

  const letter = (x: number, y: number, w: number, h: number, t: string, fs: number, cx?: number) => {
    g.push({ type: "rect", shape: { x, y, width: w, height: h }, style: { fill: "#fff", stroke: "#000", lineWidth: 3 }, z: 110, silent: true });
    g.push({
      type: "text", x: cx ?? x + w / 2, y: y + h / 2 + 1, z: 111, silent: true,
      style: { text: t, fill: "#000", fontSize: fs, fontWeight: "bold", fontFamily: FONT, align: "center", verticalAlign: "middle", textAlign: "center", textVerticalAlign: "middle" },
    });
  };
  letter(10, 13, 26, 31, "A", 31);
  letter(620, 13, 29, 33, "B", 31);
  letter(10, 332, 26, 31, "C", 31);
  letter(622, 336, 27, 31, "D", 31);
  letter(1048, 418, 45, 44, "E", 38, 1064);
  letter(10, 647.5, 26, 32, "F", 31);
  letter(622, 648, 28, 33, "G", 31);
  letter(1045, 737, 45, 43, "H", 38, 1062);
  letter(10, 964, 28, 33, "I", 31);
  letter(622, 967, 27, 31, "J", 31);
  letter(1045, 1052, 45, 45, "K", 38, 1060);

  const title = (x: number, y: number, t: string) =>
    g.push({ type: "text", x, y, z: 100, silent: true, style: { text: t, fill: "#000", fontSize: 36, fontFamily: FONT, align: "left", verticalAlign: "middle", textAlign: "left", textVerticalAlign: "middle" } });
  title(672, 365, "best-fitting model");
  title(667, 662, "best-fitting no-change");
  title(667, 697, "model");
  title(667, 978, "best-fitting step-function");
  title(667, 1012, "model");

  const legendY = [112, 151, 187, 224];
  legendLabels.forEach((t, k) => {
    g.push({ type: "line", shape: { x1: 693, y1: legendY[k], x2: 758, y2: legendY[k] }, style: { stroke: legendColors[k], lineWidth: 6 }, z: 100, silent: true });
    g.push({ type: "text", x: 782, y: legendY[k], z: 100, silent: true, style: { text: t, fill: "#000", fontSize: 24.5, fontFamily: FONT, align: "left", verticalAlign: "middle", textAlign: "left", textVerticalAlign: "middle" } });
  });

  return { animation: false, backgroundColor: "#ffffff", grid, xAxis, yAxis, series: s, graphic: { elements: g } };
}

export default function App() {
  const ref = useRef<HTMLDivElement>(null);
  useEffect(() => {
    document.body.style.margin = "0";
    const chart = echarts.init(ref.current as HTMLDivElement, null, { renderer: "svg" });
    chart.setOption(buildOption() as any);
    return () => chart.dispose();
  }, []);
  return <div ref={ref} style={{ width: 1079, height: 1271, overflow: "hidden" }} />;
}
